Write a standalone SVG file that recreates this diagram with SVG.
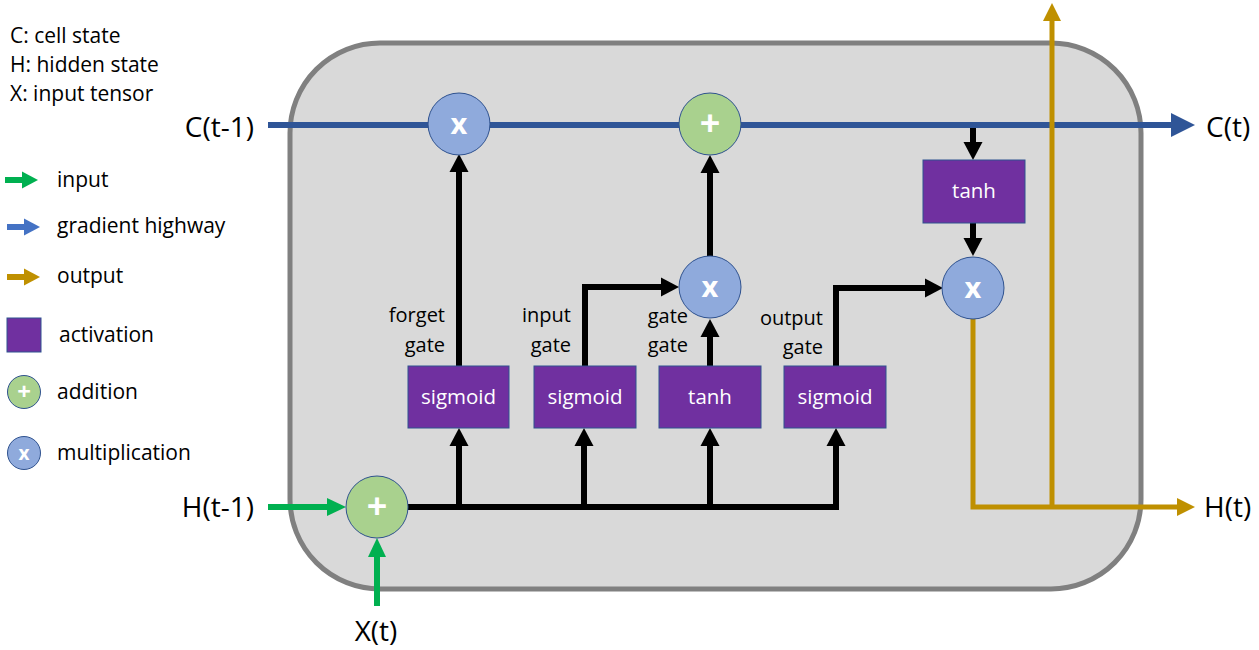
<svg xmlns="http://www.w3.org/2000/svg" width="1259" height="650" viewBox="0 0 1259 650">
<style>
text{font-family:"Open Sans","Noto Sans","DejaVu Sans",sans-serif;fill:#000}
.leg{font-size:21px}
.lbl{font-size:20px}
.io{font-size:28px}
.box{fill:#7030a0;stroke:#2f528f;stroke-width:1}
.boxt{font-size:20.5px;fill:#fff;text-anchor:middle}
.add{fill:#a9d18e;stroke:#2f528f;stroke-width:1}
.mul{fill:#8faadc;stroke:#2f528f;stroke-width:1}
.op{font-size:29px;font-weight:bold;fill:#fff;text-anchor:middle}
.opP{font-size:36px;font-weight:bold;fill:#fff;text-anchor:middle}
.opS{font-size:19px;font-weight:bold;fill:#fff;text-anchor:middle}
.opSP{font-size:24px;font-weight:bold;fill:#fff;text-anchor:middle}
.blk{fill:none;stroke:#000;stroke-width:6;marker-end:url(#aBlk)}
.grn{fill:none;stroke:#00b050;stroke-width:6;marker-end:url(#aGrn)}
.gld{fill:none;stroke:#bf9000;stroke-width:5;marker-end:url(#aGld)}
.cel{fill:none;stroke:#2f5597;stroke-width:6;marker-end:url(#aCel)}
</style>
<defs>
<marker id="aBlk" markerUnits="userSpaceOnUse" markerWidth="18" markerHeight="19" refX="0" refY="9.5" orient="auto" overflow="visible"><path d="M0,0 L18,9.5 L0,19 z" fill="#000"/></marker>
<marker id="aGrn" markerUnits="userSpaceOnUse" markerWidth="19" markerHeight="18" refX="0" refY="9" orient="auto" overflow="visible"><path d="M0,0 L19,9 L0,18 z" fill="#00b050"/></marker>
<marker id="aGld" markerUnits="userSpaceOnUse" markerWidth="18" markerHeight="18" refX="0" refY="9" orient="auto" overflow="visible"><path d="M0,0 L18,9 L0,18 z" fill="#bf9000"/></marker>
<marker id="aCel" markerUnits="userSpaceOnUse" markerWidth="24" markerHeight="24" refX="0" refY="12" orient="auto" overflow="visible"><path d="M0,0 L24,12 L0,24 z" fill="#2f5597"/></marker>
<marker id="aLgB" markerUnits="userSpaceOnUse" markerWidth="16" markerHeight="17" refX="0" refY="8.5" orient="auto" overflow="visible"><path d="M0,0 L16,8.5 L0,17 z" fill="#4472c4"/></marker>
<marker id="aLgG" markerUnits="userSpaceOnUse" markerWidth="16" markerHeight="17" refX="0" refY="8.5" orient="auto" overflow="visible"><path d="M0,0 L16,8.5 L0,17 z" fill="#00b050"/></marker>
<marker id="aLgO" markerUnits="userSpaceOnUse" markerWidth="16" markerHeight="17" refX="0" refY="8.5" orient="auto" overflow="visible"><path d="M0,0 L16,8.5 L0,17 z" fill="#bf9000"/></marker>
</defs>

<g id="legend">
<text class="leg" x="10" y="43">C: cell state</text>
<text class="leg" x="10" y="72">H: hidden state</text>
<text class="leg" x="10" y="101">X: input tensor</text>
<path d="M5,180 H22" stroke="#00b050" stroke-width="6" marker-end="url(#aLgG)"/>
<text class="leg" x="57" y="187">input</text>
<path d="M7,227 H24" stroke="#4472c4" stroke-width="6" marker-end="url(#aLgB)"/>
<text class="leg" x="57" y="233">gradient highway</text>
<path d="M7,277 H24" stroke="#bf9000" stroke-width="6" marker-end="url(#aLgO)"/>
<text class="leg" x="57" y="283">output</text>
<rect class="box" x="7" y="318" width="34" height="34"/>
<text class="leg" x="59" y="342">activation</text>
<circle class="add" cx="24" cy="392" r="16.5"/>
<text class="opSP" x="24" y="400">+</text>
<text class="leg" x="57" y="399">addition</text>
<circle class="mul" cx="24" cy="453" r="16.5"/>
<text class="opS" x="24" y="459.5">x</text>
<text class="leg" x="57" y="460">multiplication</text>
</g>

<g id="cell">
<rect x="290" y="43" width="851" height="546" rx="90" ry="90" fill="#d9d9d9" stroke="#808080" stroke-width="5"/>
</g>

<g id="connectors">
<path class="cel" d="M268,125 H1171"/>
<path class="blk" d="M459,366 V172"/>
<path class="blk" d="M585,366 V287 H661"/>
<path class="blk" d="M710,366 V337"/>
<path class="blk" d="M710,256 V173"/>
<path class="blk" d="M836,366 V288 H925"/>
<path class="blk" d="M973,128 V142"/>
<path class="blk" d="M973,223 V238"/>
<path class="blk" d="M408,507 H836 V446"/>
<path class="blk" d="M459,507 V446"/>
<path class="blk" d="M584,507 V446"/>
<path class="blk" d="M710,507 V446"/>
<path class="grn" d="M268,507 H327"/>
<path class="grn" d="M377,606 V557"/>
<path class="gld" d="M973,319 V507 H1177"/>
<path class="gld" d="M1052,507 V21"/>
</g>

<g id="labels">
<text class="io" x="254" y="137" text-anchor="end">C(t-1)</text>
<text class="io" x="1206" y="137">C(t)</text>
<text class="io" x="254" y="517" text-anchor="end">H(t-1)</text>
<text class="io" x="1204" y="517">H(t)</text>
<text class="io" x="376" y="641" text-anchor="middle">X(t)</text>
<text class="lbl" x="445" y="322" text-anchor="end">forget</text>
<text class="lbl" x="445" y="352" text-anchor="end">gate</text>
<text class="lbl" x="571" y="322" text-anchor="end">input</text>
<text class="lbl" x="571" y="352" text-anchor="end">gate</text>
<text class="lbl" x="688" y="323" text-anchor="end">gate</text>
<text class="lbl" x="688" y="352" text-anchor="end">gate</text>
<text class="lbl" x="823" y="325" text-anchor="end">output</text>
<text class="lbl" x="823" y="354" text-anchor="end">gate</text>
</g>

<g id="forget-mul"><circle class="mul" cx="459" cy="124" r="31"/><text class="op" x="459" y="134">x</text></g>
<g id="cell-add"><circle class="add" cx="710" cy="124" r="31"/><text class="opP" x="710" y="136">+</text></g>
<g id="input-mul"><circle class="mul" cx="710" cy="287" r="31"/><text class="op" x="710" y="297">x</text></g>
<g id="output-mul"><circle class="mul" cx="973" cy="288" r="31"/><text class="op" x="973" y="298">x</text></g>
<g id="input-add"><circle class="add" cx="377" cy="507" r="31"/><text class="opP" x="377" y="519">+</text></g>

<g id="forget-sigmoid"><rect class="box" x="408" y="366" width="101" height="62"/><text class="boxt" x="458.5" y="404">sigmoid</text></g>
<g id="input-sigmoid"><rect class="box" x="534" y="366" width="102" height="62"/><text class="boxt" x="585" y="404">sigmoid</text></g>
<g id="gate-tanh"><rect class="box" x="659" y="366" width="102" height="62"/><text class="boxt" x="710" y="404">tanh</text></g>
<g id="output-sigmoid"><rect class="box" x="784" y="366" width="102" height="62"/><text class="boxt" x="835" y="404">sigmoid</text></g>
<g id="cell-tanh"><rect class="box" x="923" y="160" width="102" height="63"/><text class="boxt" x="974" y="198">tanh</text></g>
</svg>
